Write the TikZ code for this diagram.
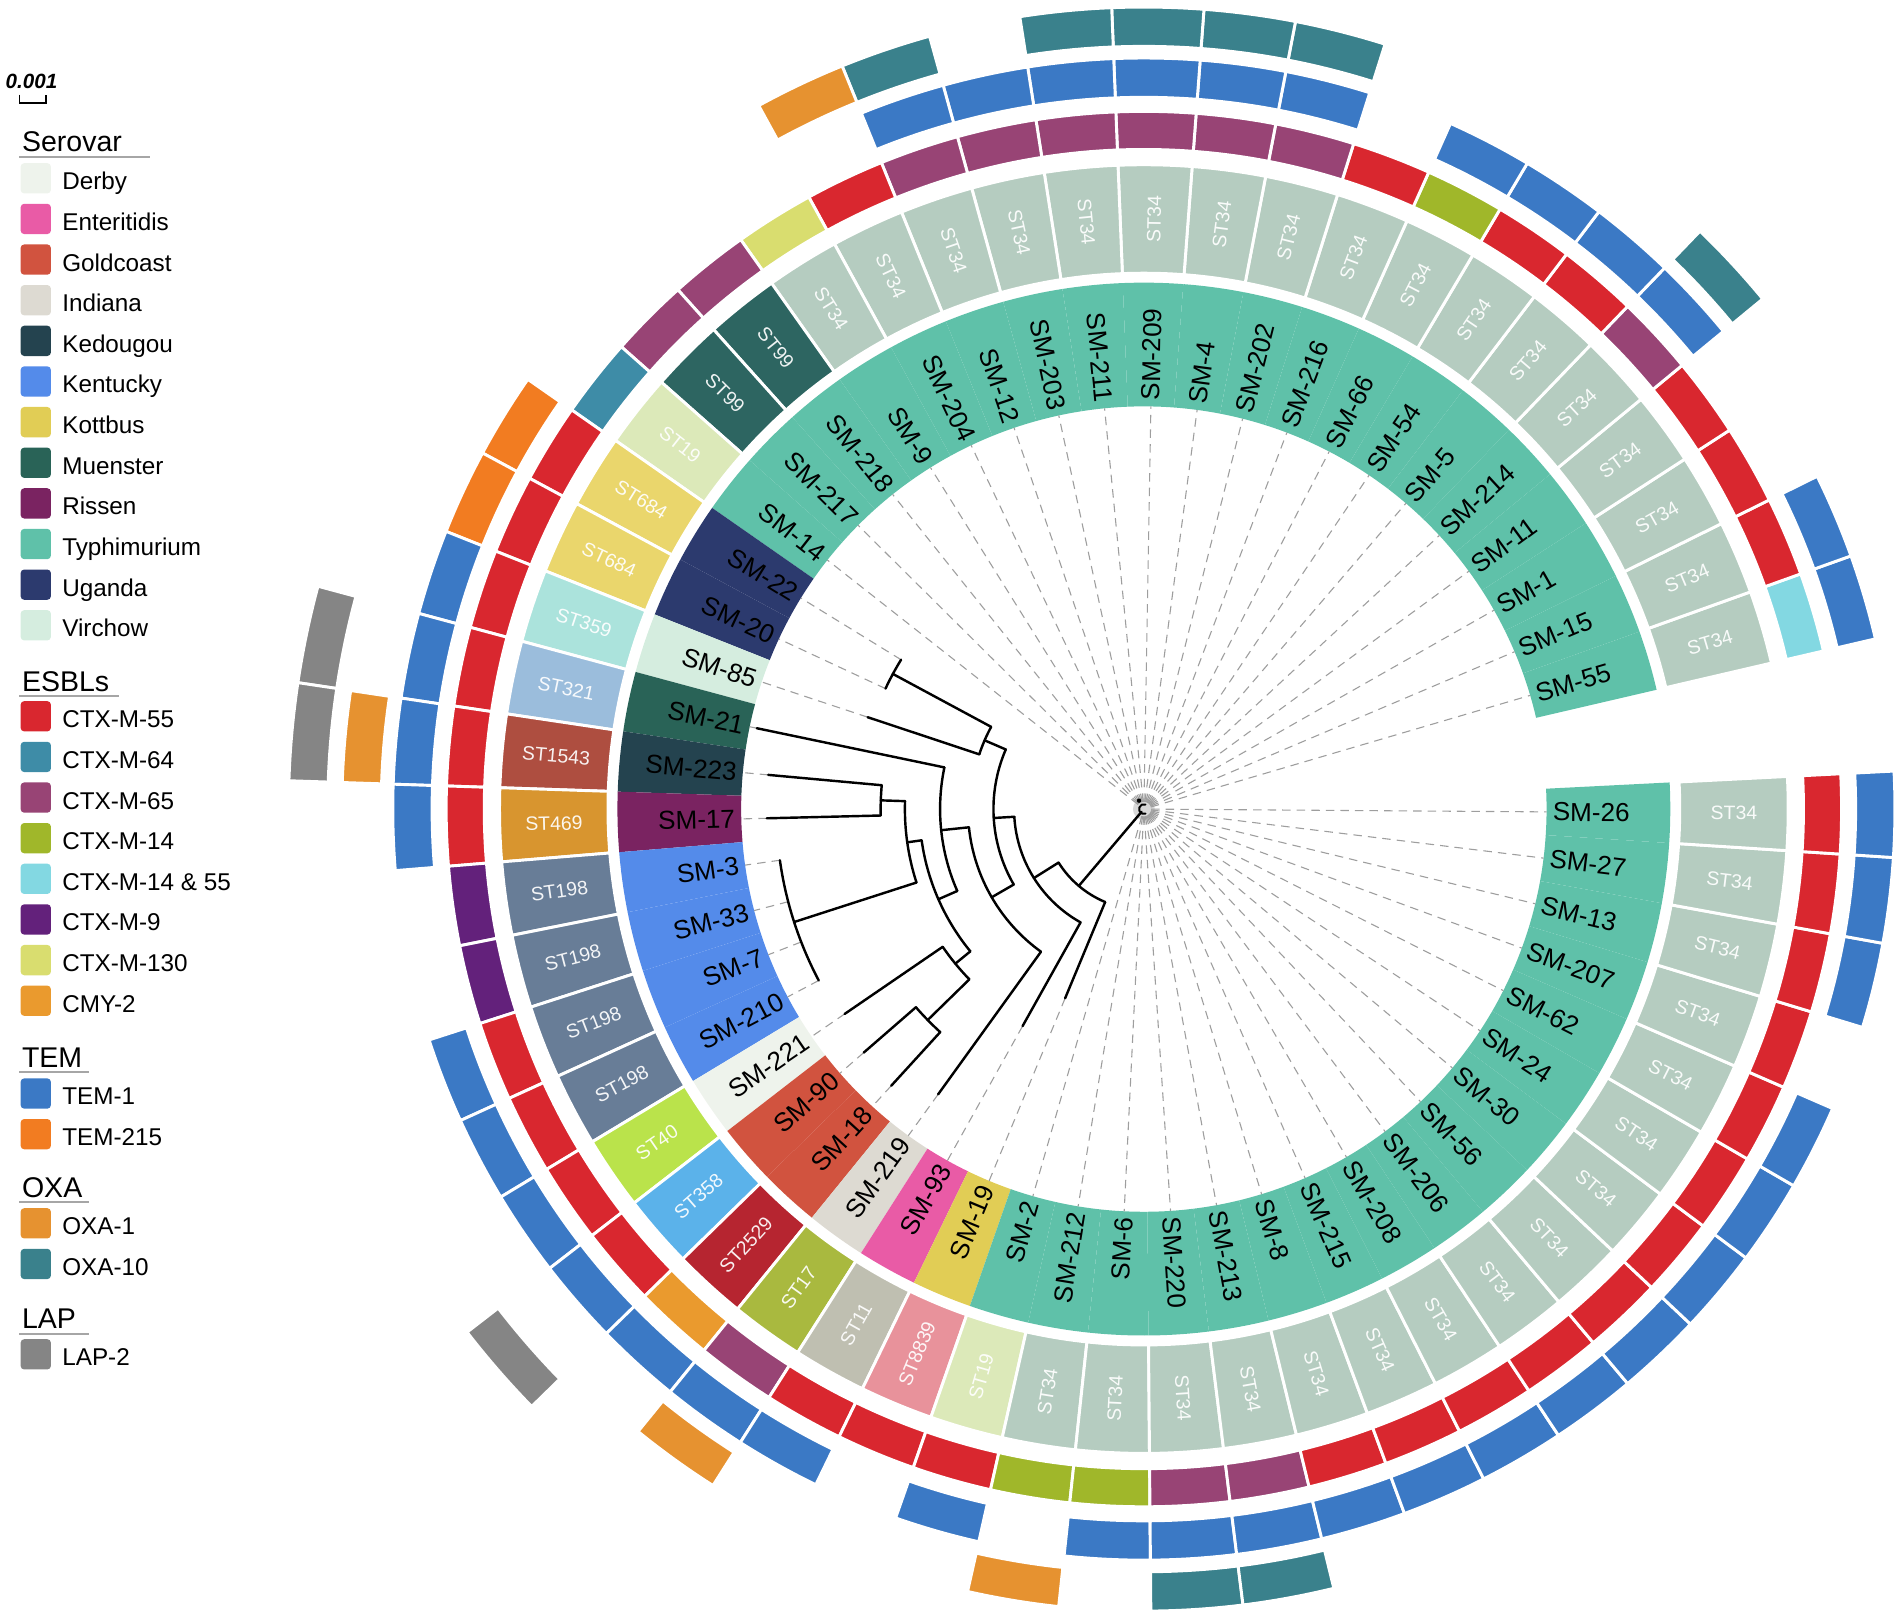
\documentclass[tikz,border=0pt]{standalone}
\usepackage{fontspec}
\setmainfont{Liberation Sans}
\usetikzlibrary{positioning}

% serovar
\definecolor{derby}{HTML}{EEF3EC}
\definecolor{enteritidis}{HTML}{E95BA6}
\definecolor{goldcoast}{HTML}{D1533F}
\definecolor{indiana}{HTML}{DDDAD2}
\definecolor{kedougou}{HTML}{24434F}
\definecolor{kentucky}{HTML}{548BEA}
\definecolor{kottbus}{HTML}{E1CD55}
\definecolor{muenster}{HTML}{296357}
\definecolor{rissen}{HTML}{7A2361}
\definecolor{typh}{HTML}{5FC1A9}
\definecolor{uganda}{HTML}{2C3A6E}
\definecolor{virchow}{HTML}{D5EDDF}
% sequence types
\definecolor{ST34}{HTML}{B5CCC0}
\definecolor{ST99}{HTML}{2D6561}
\definecolor{ST19}{HTML}{DCE9B9}
\definecolor{ST684}{HTML}{EAD66C}
\definecolor{ST359}{HTML}{ABE3DC}
\definecolor{ST321}{HTML}{9BBDDC}
\definecolor{ST1543}{HTML}{AE4E40}
\definecolor{ST469}{HTML}{D8952F}
\definecolor{ST198}{HTML}{687D97}
\definecolor{ST40}{HTML}{BAE34B}
\definecolor{ST358}{HTML}{5BB2EA}
\definecolor{ST2529}{HTML}{B62530}
\definecolor{ST17}{HTML}{A9B93F}
\definecolor{ST11}{HTML}{BFBFB1}
\definecolor{ST8839}{HTML}{E8929B}
% genes
\definecolor{ctx55}{HTML}{D9272F}
\definecolor{ctx64}{HTML}{3E8CA7}
\definecolor{ctx65}{HTML}{984475}
\definecolor{ctx14}{HTML}{A0B72A}
\definecolor{ctx1455}{HTML}{83D8E2}
\definecolor{ctx9}{HTML}{63217B}
\definecolor{ctx130}{HTML}{D9DD6F}
\definecolor{cmy2}{HTML}{EA9A2E}
\definecolor{tem1}{HTML}{3B79C5}
\definecolor{tem215}{HTML}{F27C21}
\definecolor{oxa1}{HTML}{E69230}
\definecolor{oxa10}{HTML}{3A818C}
\definecolor{lap2}{HTML}{858585}

% one cell of a ring: angle, inner radius, outer radius, options
\newcommand{\ringcell}[4]{%
    \pgfmathsetmacro\angA{#1-3.3}\pgfmathsetmacro\angB{#1+3.3}%
    \filldraw[#4] (\angA:#2) arc[start angle=\angA, end angle=\angB, radius=#2]
        -- (\angB:#3) arc[start angle=\angB, end angle=\angA, radius=#3] -- cycle;}

\begin{document}
\begin{tikzpicture}
        [
            x=1pt, y=1pt,
            branch/.style={line width=2pt, line cap=round, line join=round},
            tipline/.style={black!38, line width=0.9pt, dash pattern=on 7pt off 5pt},
            cell/.style={draw=white, line width=2.4pt},
            smlab/.style={font=\fontsize{21.5}{24}\selectfont, inner sep=0pt},
            stlab/.style={font=\fontsize{16}{18}\selectfont, text=white, text opacity=0.92, inner sep=0pt},
            key/.style={rounded corners=3pt, minimum size=25pt, inner sep=0pt},
            keytext/.style={font=\fontsize{20}{22}\selectfont, inner sep=0pt,
                            text height=14.3pt, text depth=0pt, yshift=-2.3pt},
            legtitle/.style={font=\fontsize{23.5}{26}\selectfont, anchor=base west, inner sep=0pt},
            underline/.style={black!35, line width=1.6pt}
        ]
        \useasboundingbox (-943,-668) rectangle (625,667);
        \coordinate (root) at (0,0);
        \fill[black!30, opacity=0.5] (root) circle[radius=9];

        % serovar, ST and ESBL rings, tip labels
        \foreach \idx/\name/\sero/\stn/\esb/\tip in {
            1/SM-55/typh/ST34/ctx1455/6, 2/SM-15/typh/ST34/ctx55/6, 3/SM-1/typh/ST34/ctx55/6,
            4/SM-11/typh/ST34/ctx55/6, 5/SM-214/typh/ST34/ctx65/6, 6/SM-5/typh/ST34/ctx55/6,
            7/SM-54/typh/ST34/ctx55/6, 8/SM-66/typh/ST34/ctx14/6, 9/SM-216/typh/ST34/ctx55/6,
            10/SM-202/typh/ST34/ctx65/6, 11/SM-4/typh/ST34/ctx65/6, 12/SM-209/typh/ST34/ctx65/6,
            13/SM-211/typh/ST34/ctx65/6, 14/SM-203/typh/ST34/ctx65/6, 15/SM-12/typh/ST34/ctx65/6,
            16/SM-204/typh/ST34/ctx55/6, 17/SM-9/typh/ST34/ctx130/6, 18/SM-218/typh/ST99/ctx65/6,
            19/SM-217/typh/ST99/ctx65/6, 20/SM-14/typh/ST19/ctx64/6, 21/SM-22/uganda/ST684/ctx55/235,
            22/SM-20/uganda/ST684/ctx55/235, 23/SM-85/virchow/ST359/ctx55/240,
            24/SM-21/muenster/ST321/ctx55/326, 25/SM-223/kedougou/ST1543/ctx55/311,
            26/SM-17/rissen/ST469/ctx55/311, 27/SM-3/kentucky/ST198/ctx9/303,
            28/SM-33/kentucky/ST198/ctx9/303, 29/SM-7/kentucky/ST198/ctx55/303,
            30/SM-210/kentucky/ST198/ctx55/303, 31/SM-221/derby/ST40/ctx55/299,
            32/SM-90/goldcoast/ST358/ctx55/306, 33/SM-18/goldcoast/ST2529/cmy2/309,
            34/SM-219/indiana/ST17/ctx65/290, 35/SM-93/enteritidis/ST11/ctx55/205,
            36/SM-19/kottbus/ST8839/ctx55/169, 37/SM-2/typh/ST19/ctx55/6, 38/SM-212/typh/ST34/ctx14/6,
            39/SM-6/typh/ST34/ctx14/6, 40/SM-220/typh/ST34/ctx65/6, 41/SM-213/typh/ST34/ctx65/6,
            42/SM-8/typh/ST34/ctx55/6, 43/SM-215/typh/ST34/ctx55/6, 44/SM-208/typh/ST34/ctx55/6,
            45/SM-206/typh/ST34/ctx55/6, 46/SM-56/typh/ST34/ctx55/6, 47/SM-30/typh/ST34/ctx55/6,
            48/SM-24/typh/ST34/ctx55/6, 49/SM-62/typh/ST34/ctx55/6, 50/SM-207/typh/ST34/ctx55/6,
            51/SM-13/typh/ST34/ctx55/6, 52/SM-27/typh/ST34/ctx55/6, 53/SM-26/typh/ST34/ctx55/6}{
            \pgfmathsetmacro\ang{16.4+6.6*(\idx-1)}
            \pgfmathtruncatemacro\flip{and(\ang>90,\ang<270)}
            \ringcell{\ang}{332}{434}{fill=\sero, draw=none}
            \ringcell{\ang}{441.8}{531.2}{cell, fill=\stn}
            \ringcell{\ang}{543.8}{575.2}{cell, fill=\esb}
            \coordinate (tip-\idx) at (\ang:\tip);
            \coordinate (end-\idx) at (\ang:332);
            \draw[tipline] (tip-\idx) -- (end-\idx);
            \ifnum\flip=1
                \pgfmathsetmacro\rot{\ang-180}
                \node[smlab, anchor=east, rotate=\rot] (lab-\idx) at (\ang:337) {\name};
                \node[stlab, rotate=\rot] (st-\idx) at (\ang:486.5) {\stn};
            \else
                \node[smlab, anchor=west, rotate=\ang] (lab-\idx) at (\ang:337) {\name};
                \node[stlab, rotate=\ang] (st-\idx) at (\ang:486.5) {\stn};
            \fi
        }

        % TEM, OXA and LAP rings
        \foreach \idx/\col in {1/tem1, 2/tem1, 5/tem1, 6/tem1, 7/tem1, 8/tem1, 10/tem1, 11/tem1,
            12/tem1, 13/tem1, 14/tem1, 15/tem1, 21/tem215, 22/tem215, 23/tem1, 24/tem1, 25/tem1,
            26/tem1, 29/tem1, 30/tem1, 31/tem1, 32/tem1, 33/tem1, 34/tem1, 35/tem1, 37/tem1,
            39/tem1, 40/tem1, 41/tem1, 42/tem1, 43/tem1, 44/tem1, 45/tem1, 46/tem1, 47/tem1,
            48/tem1, 49/tem1, 51/tem1, 52/tem1, 53/tem1}{
            \pgfmathsetmacro\ang{16.4+6.6*(\idx-1)}
            \ringcell{\ang}{586.8}{619.2}{cell, fill=\col}
        }
        \foreach \idx/\col in {5/oxa10, 10/oxa10, 11/oxa10, 12/oxa10, 13/oxa10, 15/oxa10,
            16/oxa1, 25/oxa1, 34/oxa1, 38/oxa1, 40/oxa10, 41/oxa10}{
            \pgfmathsetmacro\ang{16.4+6.6*(\idx-1)}
            \ringcell{\ang}{628.8}{661.2}{cell, fill=\col}
        }
        \foreach \idx in {24, 25, 32}{
            \pgfmathsetmacro\ang{16.4+6.6*(\idx-1)}
            \ringcell{\ang}{672.8}{705.2}{cell, fill=lap2}
        }

        % tree
        \foreach \n/\a/\rp/\rc in {A/229.75/3/83, X/212.1/83/107, W/183.4/107/124,
            V/156.65/124/143, U/151.7/143/235, Y/210.1/124/145, Z/185.95/145/168,
            Z2/203.7/168/185, J/188.0/185/197, K/178.1/197/217, Ken/197.9/197/303,
            D/219.35/185/201, G/224.3/201/249}{
            \coordinate (\n) at (\a:\rc);
            \coordinate (\n-foot) at (\a:\rp);
            \draw[branch] (\n-foot) -- (\n);
        }
        \foreach \n/\from/\to/\r in {A/212.1/247.4/83, X/183.4/240.8/107, W/156.65/210.1/124,
            V/151.7/161.6/143, U/148.4/155.0/235, Y/185.95/234.2/145, Z/168.2/203.7/168,
            Z2/188.0/219.35/185, J/178.1/197.9/197, K/174.8/181.4/217, Ken/188.0/207.8/303,
            D/214.4/224.3/201, G/221.0/227.6/249}
            \draw[branch] (\from:\r) arc[start angle=\from, end angle=\to, radius=\r];
        \foreach \idx/\rp in {23/143, 24/168, 25/217, 26/217, 31/201, 32/249, 33/249,
            34/145, 35/107, 36/83}{
            \pgfmathsetmacro\ang{16.4+6.6*(\idx-1)}
            \coordinate (stem-\idx) at (\ang:\rp);
            \draw[branch] (stem-\idx) -- (tip-\idx);
        }
        \draw[branch, line width=1.6pt] (70:4) arc[start angle=70, end angle=290, radius=4];
        \fill (120:8) circle[radius=1.8];

        % scale
        \node[font=\fontsize{17}{19}\selectfont\bfseries\itshape, inner sep=0pt] (scale) at (-917,599.5) {0.001};
        \draw[line width=1.3pt] (-927,589) |- (-905,582) -- (-905,589);

        % legend
        \node[legtitle] (t-serovar) at (-925,542) {Serovar};
        \draw[underline] (-927,537.8) -- (-819,537.8);
        \foreach \lab/\col [count=\row from 0] in {Derby/derby, Enteritidis/enteritidis,
            Goldcoast/goldcoast, Indiana/indiana, Kedougou/kedougou, Kentucky/kentucky,
            Kottbus/kottbus, Muenster/muenster, Rissen/rissen, Typhimurium/typh,
            Uganda/uganda, Virchow/virchow}{
            \node[key, fill=\col] (key-\col) at (-913.5,{520-33.5*\row}) {};
            \node[keytext, right=9pt of key-\col] (txt-\col) {\lab};
        }
        \node[legtitle] (t-esbl) at (-925,97) {ESBLs};
        \draw[underline] (-927,93.4) -- (-845,93.4);
        \foreach \lab/\col [count=\row from 0] in {CTX-M-55/ctx55, CTX-M-64/ctx64,
            CTX-M-65/ctx65, CTX-M-14/ctx14, CTX-M-14 \& 55/ctx1455, CTX-M-9/ctx9,
            CTX-M-130/ctx130, CMY-2/cmy2}{
            \node[key, fill=\col] (key-\col) at (-913.5,{76.5-33.5*\row}) {};
            \node[keytext, right=9pt of key-\col] (txt-\col) {\lab};
        }
        \node[legtitle] (t-tem) at (-925,-213) {TEM};
        \draw[underline] (-927,-217) -- (-870,-217);
        \foreach \lab/\col [count=\row from 0] in {TEM-1/tem1, TEM-215/tem215}{
            \node[key, fill=\col] (key-\col) at (-913.5,{-234.5-33.5*\row}) {};
            \node[keytext, right=9pt of key-\col] (txt-\col) {\lab};
        }
        \node[legtitle] (t-oxa) at (-925,-320) {OXA};
        \draw[underline] (-927,-324.2) -- (-870,-324.2);
        \foreach \lab/\col [count=\row from 0] in {OXA-1/oxa1, OXA-10/oxa10}{
            \node[key, fill=\col] (key-\col) at (-913.5,{-341.5-33.5*\row}) {};
            \node[keytext, right=9pt of key-\col] (txt-\col) {\lab};
        }
        \node[legtitle] (t-lap) at (-925,-428) {LAP};
        \draw[underline] (-927,-432.7) -- (-870,-432.7);
        \node[key, fill=lap2] (key-lap2) at (-913.5,-449.5) {};
        \node[keytext, right=9pt of key-lap2] (txt-lap2) {LAP-2};
    \end{tikzpicture}
\end{document}
